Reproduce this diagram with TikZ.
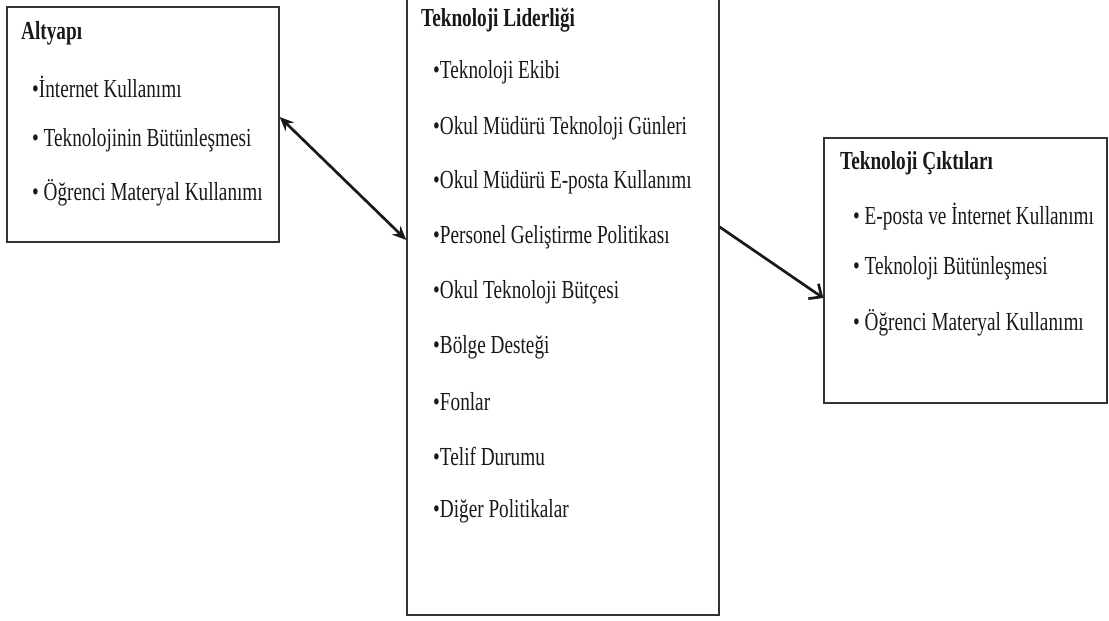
\documentclass[tikz,border=0pt]{standalone}
\usepackage{fontspec}
\setmainfont{Liberation Serif}[FakeStretch=0.74]
\usetikzlibrary{arrows.meta}
\begin{document}
\begin{tikzpicture}[x=1pt,y=-1pt,
  boxnode/.style={draw=black!80,line width=1.4pt,rectangle,inner sep=0pt},
  ttl/.style={anchor=west,inner sep=0pt,font=\fontsize{26}{28}\selectfont\bfseries,text=black!90},
  itm/.style={anchor=west,inner sep=0pt,font=\fontsize{26}{28}\selectfont,text=black!90},
  conn/.style={line width=2.7pt,black!90}]
\useasboundingbox (0,0) rectangle (1109,621);
\clip (0,0) rectangle (1109,621);
% boxes
\node[boxnode,minimum width=272pt,minimum height=235pt] (left) at (143,124.5) {};
\node[boxnode,minimum width=312pt,minimum height=624pt] (mid) at (563,303) {};
\node[boxnode,minimum width=283pt,minimum height=265pt] (right) at (965.5,270.5) {};
% left texts
\node[ttl] (lt) at (21,33) {Altyapı};
\node[itm] (l1) at (32,87) {•İnternet Kullanımı};
\node[itm] (l2) at (32,140) {• Teknolojinin Bütünleşmesi};
\node[itm] (l3) at (32,193) {• Öğrenci Materyal Kullanımı};
% middle texts
\node[ttl] (mt) at (421,20) {Teknoloji Liderliği};
\node[itm] (m1) at (433,72) {•Teknoloji Ekibi};
\node[itm] (m2) at (433,128) {•Okul Müdürü Teknoloji Günleri};
\node[itm] (m3) at (433,182) {•Okul Müdürü E-posta Kullanımı};
\node[itm] (m4) at (433,237) {•Personel Geliştirme Politikası};
\node[itm] (m5) at (433,292) {•Okul Teknoloji Bütçesi};
\node[itm] (m6) at (433,347) {•Bölge Desteği};
\node[itm] (m7) at (433,402) {•Fonlar};
\node[itm] (m8) at (433,456) {•Telif Durumu};
\node[itm] (m9) at (433,511) {•Diğer Politikalar};
% right texts
\node[ttl] (rt) at (840,163) {Teknoloji Çıktıları};
\node[itm] (r1) at (853,217) {• E-posta ve İnternet Kullanımı};
\node[itm] (r2) at (853,268) {• Teknoloji Bütünleşmesi};
\node[itm] (r3) at (853,323) {• Öğrenci Materyal Kullanımı};
% connectors
\draw[conn,{Stealth[length=14pt,width=12pt]}-{Stealth[length=14pt,width=12pt]}]
  ([yshift=7.5pt]left.east) -- ([yshift=63pt]mid.west);
\draw[conn,-{Straight Barb[length=10pt,width=18pt]}]
  ([yshift=76pt]mid.east) -- ([yshift=-27.5pt]right.west);
\end{tikzpicture}
\end{document}
